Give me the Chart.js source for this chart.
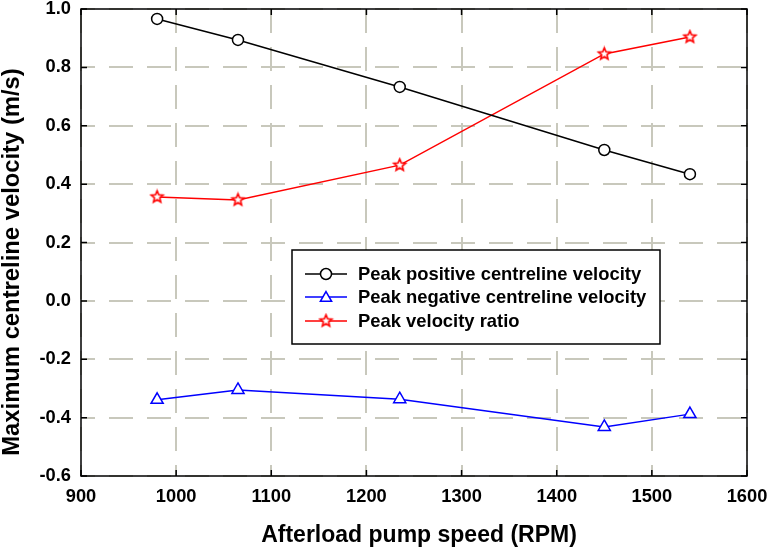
<!DOCTYPE html>
<html>
<head>
<meta charset="utf-8">
<script src="https://cdn.jsdelivr.net/npm/chart.js@4/dist/chart.umd.min.js"></script>
<style>
html,body{margin:0;padding:0;background:#fff;}
#wrap{width:769px;height:550px;}
</style>
</head>
<body>
<div id="wrap"><canvas id="c" width="769" height="550"></canvas></div>
<script>
// ---- data ----
const pumpSpeed = [980, 1065, 1235, 1450, 1540];
const peakPositive = [0.966, 0.894, 0.733, 0.517, 0.434];
const peakNegative = [-0.339, -0.305, -0.337, -0.432, -0.388];
const velocityRatio = [0.356, 0.346, 0.465, 0.846, 0.904];
const xTicks = [900, 1000, 1100, 1200, 1300, 1400, 1500, 1600];
const yTicks = [-0.6, -0.4, -0.2, 0.0, 0.2, 0.4, 0.6, 0.8, 1.0];
const seriesNames = ['Peak positive centreline velocity', 'Peak negative centreline velocity', 'Peak velocity ratio'];
const xTitle = 'Afterload pump speed (RPM)';
const yTitle = 'Maximum centreline velocity (m/s)';

const FONT = 'Arial, "Liberation Sans", sans-serif';

function makeStar(r, color) {
  const s = Math.ceil(r * 2 + 4);
  const c = document.createElement('canvas');
  c.width = s; c.height = s;
  const g = c.getContext('2d');
  g.beginPath();
  for (let i = 0; i < 10; i++) {
    const rr = i % 2 ? r * 0.45 : r;
    const a = -Math.PI / 2 + i * Math.PI / 5;
    g.lineTo(s / 2 + rr * Math.cos(a), s / 2 + rr * Math.sin(a));
  }
  g.closePath();
  g.fillStyle = '#fff'; g.fill();
  g.lineWidth = 1.6; g.strokeStyle = color; g.lineJoin = 'miter'; g.stroke();
  return c;
}
const starImg = makeStar(6.2, '#ff0000');

function pts(ys) { return pumpSpeed.map((x, i) => ({x: x, y: ys[i]})); }

const frame = {
  id: 'frame',
  beforeDatasetsDraw(chart) {
    const {ctx, chartArea: a, scales: {x, y}} = chart;
    ctx.save();
    ctx.strokeStyle = '#000';
    ctx.lineWidth = 1.5;
    ctx.strokeRect(a.left, a.top, a.right - a.left, a.bottom - a.top);
    const L = 6;
    ctx.beginPath();
    xTicks.forEach(v => {
      const px = x.getPixelForValue(v);
      ctx.moveTo(px, a.bottom); ctx.lineTo(px, a.bottom - L);
      ctx.moveTo(px, a.top); ctx.lineTo(px, a.top + L);
    });
    yTicks.forEach(v => {
      const py = y.getPixelForValue(v);
      ctx.moveTo(a.left, py); ctx.lineTo(a.left + L, py);
      ctx.moveTo(a.right, py); ctx.lineTo(a.right - L, py);
    });
    ctx.stroke();
    // axis titles
    ctx.fillStyle = '#000';
    ctx.font = 'bold 23px ' + FONT;
    ctx.textAlign = 'center';
    ctx.textBaseline = 'alphabetic';
    ctx.fillText(xTitle, 419, 542);
    ctx.save();
    ctx.translate(19, 262);
    ctx.rotate(-Math.PI / 2);
    ctx.font = 'bold 23.8px ' + FONT;
    ctx.fillText(yTitle, 0, 0);
    ctx.restore();
    ctx.restore();
  },
  afterDatasetsDraw(chart) {
    const {ctx} = chart;
    const bx = 292, by = 250, bw = 368, bh = 94;
    ctx.save();
    ctx.fillStyle = '#fff';
    ctx.fillRect(bx, by, bw, bh);
    ctx.strokeStyle = '#000';
    ctx.lineWidth = 1.5;
    ctx.strokeRect(bx, by, bw, bh);
    const colors = ['#000000', '#0000ff', '#ff0000'];
    const rows = [274, 297, 321];
    rows.forEach((ry, i) => {
      ctx.strokeStyle = colors[i];
      ctx.lineWidth = 1.5;
      ctx.beginPath(); ctx.moveTo(305, ry); ctx.lineTo(347, ry); ctx.stroke();
      const cx = 326;
      if (i === 0) {
        ctx.beginPath(); ctx.arc(cx, ry, 5.5, 0, Math.PI * 2);
        ctx.fillStyle = '#fff'; ctx.fill(); ctx.stroke();
      } else if (i === 1) {
        const r = 6.5;
        ctx.beginPath();
        for (let k = 0; k < 3; k++) {
          const ang = -Math.PI / 2 + k * 2 * Math.PI / 3;
          ctx.lineTo(cx + r * Math.cos(ang), ry + 1 + r * Math.sin(ang));
        }
        ctx.closePath(); ctx.fillStyle = '#fff'; ctx.fill(); ctx.stroke();
      } else {
        ctx.drawImage(starImg, cx - starImg.width / 2, ry - starImg.height / 2);
      }
      ctx.fillStyle = '#000';
      ctx.font = 'bold 18.4px ' + FONT;
      ctx.textBaseline = 'middle';
      ctx.textAlign = 'left';
      ctx.fillText(seriesNames[i], 358, ry + 1);
    });
    ctx.restore();
  }
};

const gridOpts = {color: '#c8c8bc', lineWidth: 2, drawTicks: false};

new Chart(document.getElementById('c'), {
  type: 'line',
  data: {
    datasets: [
      {label: seriesNames[0], data: pts(peakPositive), borderColor: '#000', backgroundColor: '#fff',
       borderWidth: 1.5, pointStyle: 'circle', pointRadius: 5.5, pointBorderWidth: 1.5, pointBorderColor: '#000', pointBackgroundColor: '#fff', tension: 0},
      {label: seriesNames[1], data: pts(peakNegative), borderColor: '#0000ff', backgroundColor: '#fff',
       borderWidth: 1.5, pointStyle: 'triangle', pointRadius: 7, pointBorderWidth: 1.5, pointBorderColor: '#0000ff', pointBackgroundColor: '#fff', tension: 0},
      {label: seriesNames[2], data: pts(velocityRatio), borderColor: '#ff0000', backgroundColor: '#fff',
       borderWidth: 1.5, pointStyle: starImg, pointRadius: 6, tension: 0}
    ]
  },
  options: {
    responsive: false,
    animation: false,
    devicePixelRatio: 1,
    layout: {padding: {top: 9, right: 22, left: 0, bottom: 0}},
    plugins: {legend: {display: false}, tooltip: {enabled: false}},
    scales: {
      x: {
        type: 'linear', min: 900, max: 1600,
        afterBuildTicks: s => { s.ticks = xTicks.map(v => ({value: v})); },
        afterFit: s => { s.height = 74; s.paddingLeft = 0; s.paddingRight = 0; },
        grid: gridOpts,
        border: {display: false, dash: [24, 14], dashOffset: 0},
        ticks: {color: '#000', font: {family: FONT, size: 18.3, weight: 'bold'}, padding: 10, maxRotation: 0,
                callback: v => String(v)},
        title: {display: false}
      },
      y: {
        type: 'linear', min: -0.6, max: 1.0,
        afterBuildTicks: s => { s.ticks = yTicks.map(v => ({value: v})); },
        afterFit: s => { s.width = 81; s.paddingTop = 0; s.paddingBottom = 0; },
        grid: gridOpts,
        border: {display: false, dash: [24, 14], dashOffset: 10},
        ticks: {color: '#000', font: {family: FONT, size: 18.3, weight: 'bold'}, padding: 10,
                callback: v => (Math.abs(v) < 1e-9 ? 0 : v).toFixed(1)},
        title: {display: false}
      }
    }
  },
  plugins: [frame]
});
</script>
</body>
</html>
